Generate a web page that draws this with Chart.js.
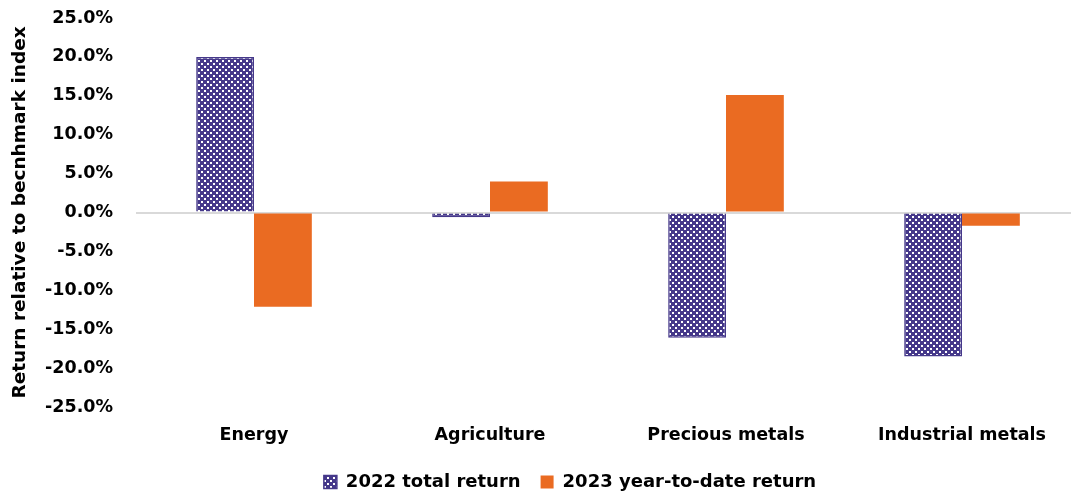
<!DOCTYPE html>
<html>
<head>
<meta charset="utf-8">
<script src="https://cdn.jsdelivr.net/npm/chart.js@4/dist/chart.umd.min.js"></script>
<style>
  html, body { margin: 0; padding: 0; background: #fff; overflow: hidden; }
  #wrap { width: 1080px; height: 491px; }
</style>
</head>
<body>
<div id="wrap"><canvas id="myChart"></canvas></div>
<script>
const categories = ['Energy', 'Agriculture', 'Precious metals', 'Industrial metals'];
const total2022 = [20.0, -0.6, -16.1, -18.5];
const ytd2023 = [-12.1, 4.0, 15.1, -1.7];
const seriesNames = ['2022 total return', '2023 year-to-date return'];

// checkered fill for the 2022 bars
function makePattern() {
    let c = document.createElement('canvas');
    c.width = 6;
    c.height = 6;
    let g = c.getContext('2d');
    g.fillStyle = '#45388a';
    g.fillRect(0, 0, 6, 6);
    g.fillStyle = '#ffffff';
    g.fillRect(0, 0, 2, 2);
    g.fillRect(3, 3, 2, 2);
    return document.createElement('canvas').getContext('2d').createPattern(c, 'repeat');
}

const fam = '"DejaVu Sans", Verdana, sans-serif';

// nudge the legend so it sits where the original one does
const legendShift = {
    id: 'legendShift',
    afterLayout: function(chart) {
        chart.legend.left += 30;
        chart.legend.right += 30;
        chart.legend.top -= 11;
        chart.legend.bottom -= 11;
    }
};

let ctx = document.getElementById('myChart').getContext('2d');
let chart = new Chart(ctx, {
    type: 'bar',
    data: {
        labels: categories,
        datasets: [{
            label: seriesNames[0],
            data: total2022,
            backgroundColor: makePattern(),
            borderColor: '#45388a',
            borderWidth: 1.5
        }, {
            label: seriesNames[1],
            data: ytd2023,
            backgroundColor: '#ea6b22',
            borderWidth: 0
        }]
    },
    plugins: [legendShift],
    options: {
        responsive: true,
        maintainAspectRatio: false,
        animation: false,
        layout: { padding: { top: 18, right: 0, left: 0, bottom: -21 } },
        datasets: {
            bar: { categoryPercentage: 0.49, barPercentage: 1.0 }
        },
        scales: {
            x: {
                grid: { display: false, drawTicks: false },
                border: { display: false },
                ticks: { color: '#000', font: { family: fam, size: 17.5, weight: 'bold' }, padding: 18 }
            },
            y: {
                min: -25,
                max: 25,
                afterFit: function(scale) {
                    scale.width = 136;
                    scale.paddingTop = 0;
                    scale.paddingBottom = 0;
                },
                grid: {
                    color: function(c) { return c.tick && c.tick.value === 0 ? '#d9d9d9' : 'rgba(0,0,0,0)'; },
                    lineWidth: 2,
                    drawTicks: false
                },
                border: { display: false },
                ticks: {
                    stepSize: 5,
                    color: '#000',
                    font: { family: fam, size: 17.5, weight: 'bold' },
                    padding: 23,
                    callback: function(v) { return v.toFixed(1) + '%'; }
                },
                title: {
                    display: true,
                    text: 'Return relative to becnhmark index',
                    color: '#000',
                    font: { family: fam, size: 18.5, weight: 'bold' },
                    padding: { top: 9, bottom: 0 }
                }
            }
        },
        plugins: {
            legend: {
                position: 'bottom',
                labels: {
                    color: '#000',
                    font: { family: fam, size: 18, weight: 'bold' },
                    boxWidth: 13,
                    boxHeight: 13,
                    padding: 20
                }
            },
            tooltip: { enabled: false }
        }
    }
});
</script>
</body>
</html>
